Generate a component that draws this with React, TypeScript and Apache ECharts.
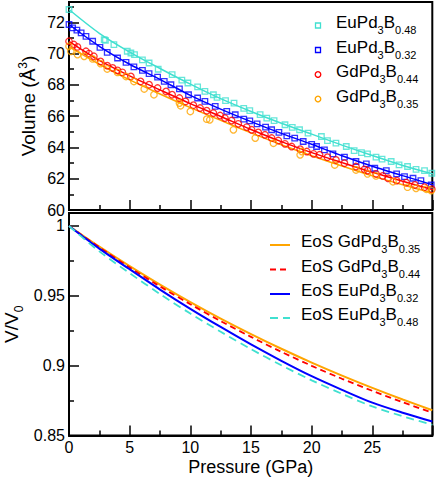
import React, { useEffect, useRef } from 'react';
import * as echarts from 'echarts';

const FONT = "'Liberation Sans', Arial, Helvetica, sans-serif";

// axis ranges
const X_MIN = 0;
const X_MAX = 29.94;
const X_INTERVAL = 5;
const V_MIN = 60;
const V_MAX = 73.3;
const V_INTERVAL = 2;
const R_MIN = 0.85;
const R_MAX = 1.0093;
const R_INTERVAL = 0.05;

// colours
const TURQ = '#40E0D0';
const BLUE = '#0000FF';
const RED = '#FF0000';
const ORANGE = '#FFA500';

// measured volumes (pressure GPa, volume Å^3)
const EU048_POINTS = [
  [0, 72.82], [2.9, 70.9], [3.0, 70.85], [3.7, 70.58], [4.8, 70.15], [5.1, 70.04], [5.4, 69.94],
  [6.05, 69.6], [6.6, 69.4], [7.35, 69.0], [8.5, 68.65], [9.3, 68.3], [9.8, 68.12], [10.6, 67.87],
  [11.2, 67.58], [11.9, 67.37], [12.2, 67.2], [12.9, 67.0], [13.6, 66.84], [14.4, 66.5], [14.9, 66.35],
  [15.75, 66.1], [16.3, 65.88], [16.9, 65.72], [17.8, 65.45], [18.4, 65.28], [19.0, 65.13], [19.7, 64.91],
  [20.8, 64.7], [21.3, 64.44], [22.0, 64.27], [22.85, 64.06], [23.5, 63.8], [24.1, 63.67], [24.6, 63.59],
  [25.3, 63.38], [25.8, 63.25], [26.55, 63.1], [27.2, 62.88], [27.9, 62.78], [28.6, 62.6], [29.3, 62.52],
  [29.9, 62.35],
];
const EU032_POINTS = [
  [0, 71.86], [0.3, 71.65], [0.65, 71.5], [1.0, 71.33], [1.4, 71.1], [1.95, 70.79], [2.55, 70.4],
  [3.15, 70.08], [4.0, 69.72], [4.7, 69.44], [5.35, 69.15], [6.05, 68.93], [6.6, 68.72], [7.3, 68.5],
  [7.85, 68.22], [8.4, 68.01], [9.1, 67.74], [9.85, 67.37], [10.6, 67.16], [11.2, 66.94], [12.05, 66.62],
  [13.0, 66.3], [13.7, 66.09], [14.4, 65.81], [14.9, 65.7], [15.5, 65.51], [16.2, 65.3], [16.7, 65.13],
  [17.3, 64.96], [17.95, 64.74], [18.6, 64.6], [19.3, 64.38], [20.0, 64.2], [20.4, 64.06], [21.05, 63.85],
  [21.75, 63.59], [22.7, 63.38], [23.65, 63.1], [24.5, 62.95], [25.2, 62.67], [26.15, 62.52], [27.0, 62.31],
  [27.65, 62.13], [28.35, 62.03], [29.0, 61.88], [29.85, 61.6],
];
const GD044_POINTS = [
  [0, 70.79], [0.4, 70.58], [0.7, 70.43], [1.4, 70.15], [1.65, 70.0], [2.05, 69.83], [2.6, 69.5],
  [3.15, 69.23], [3.6, 69.08], [4.0, 68.93], [4.4, 68.8], [5.1, 68.54], [5.9, 68.22], [6.6, 68.01],
  [7.3, 67.8], [8.0, 67.58], [8.5, 67.37], [9.1, 67.16], [9.6, 66.94], [10.25, 66.7], [10.8, 66.52],
  [11.35, 66.35], [11.9, 66.2], [12.45, 66.04], [12.85, 65.88], [13.4, 65.72], [13.95, 65.51], [14.65, 65.3],
  [15.05, 65.13], [15.6, 64.96], [16.15, 64.81], [16.7, 64.6], [17.25, 64.44], [17.8, 64.23], [18.35, 64.06],
  [19.05, 63.89], [19.6, 63.74], [20.15, 63.59], [20.65, 63.53], [21.3, 63.38], [22.0, 63.2], [22.7, 62.99],
  [23.65, 62.78], [24.35, 62.6], [24.6, 62.52], [25.3, 62.31], [25.85, 62.18], [26.3, 62.03], [27.0, 61.88],
  [27.8, 61.75], [28.5, 61.6], [29.3, 61.46], [29.9, 61.33],
];
const GD035_POINTS = [
  [0, 70.47], [0.15, 70.15], [0.7, 69.94], [1.25, 69.83], [1.95, 69.66], [2.6, 69.36], [3.15, 69.02],
  [4.0, 68.8], [4.7, 68.54], [5.35, 68.22], [6.2, 67.74], [7.0, 67.37], [9.1, 66.84], [9.2, 66.67],
  [10.0, 66.3], [11.35, 65.81], [11.6, 65.77], [13.55, 65.13], [15.35, 64.6], [16.85, 64.27], [19.05, 63.53],
  [19.2, 63.74], [21.9, 62.88], [23.65, 62.56], [24.6, 62.31], [25.3, 62.18], [26.7, 61.81], [27.9, 61.46],
  [28.6, 61.39], [29.45, 61.33], [29.85, 61.24],
];

// fitted curves (volume) read at these pressures
const FIT_P = [0, 2.5, 5, 7.5, 10, 12.5, 15, 17.5, 20, 22.5, 25, 27.5, 30];
const EU048_FIT = [72.82, 71.3, 70.1, 69.05, 68.05, 67.12, 66.3, 65.55, 64.85, 64.15, 63.48, 62.85, 62.3];
const EU032_FIT = [71.86, 70.47, 69.32, 68.35, 67.33, 66.45, 65.65, 64.9, 64.2, 63.47, 62.8, 62.2, 61.6];
const GD044_FIT = [70.79, 69.57, 68.58, 67.68, 66.8, 65.98, 65.15, 64.37, 63.67, 63.03, 62.41, 61.84, 61.3];
const GD035_FIT = [70.45, 69.32, 68.32, 67.42, 66.55, 65.73, 64.93, 64.17, 63.47, 62.81, 62.18, 61.61, 61.08];

// EoS V/V0 curves read at these pressures
const EOS_P = [0, 2.5, 5, 7.5, 10, 12.5, 15, 17.5, 20, 22.5, 25, 27.5, 29.94];
const EOS_GD035 = [1.0, 0.9852, 0.9712, 0.958, 0.9455, 0.9337, 0.9226, 0.9121, 0.9022, 0.8929, 0.8841, 0.8758, 0.8681];
const EOS_GD044 = [1.0, 0.9847, 0.9703, 0.9567, 0.944, 0.9319, 0.9206, 0.9099, 0.8999, 0.8906, 0.882, 0.8738, 0.8664];
const EOS_EU032 = [1.0, 0.9838, 0.969, 0.9545, 0.9407, 0.9277, 0.9152, 0.9035, 0.8925, 0.8827, 0.8735, 0.8663, 0.86];
const EOS_EU048 = [1.0, 0.9818, 0.9662, 0.9513, 0.9373, 0.9243, 0.9118, 0.9003, 0.8895, 0.8798, 0.8708, 0.8638, 0.8577];

// legend formulas: [element, sub1, element2, sub2]
const TOP_LEGEND = [
  { parts: ['EuPd', '3', 'B', '0.48'], color: TURQ, symbol: 'rect' },
  { parts: ['EuPd', '3', 'B', '0.32'], color: BLUE, symbol: 'rect' },
  { parts: ['GdPd', '3', 'B', '0.44'], color: RED, symbol: 'circle' },
  { parts: ['GdPd', '3', 'B', '0.35'], color: ORANGE, symbol: 'circle' },
];
const BOTTOM_LEGEND = [
  { parts: ['EoS GdPd', '3', 'B', '0.35'], color: ORANGE, dash: null as number[] | null },
  { parts: ['EoS GdPd', '3', 'B', '0.44'], color: RED, dash: [6, 4] },
  { parts: ['EoS EuPd', '3', 'B', '0.32'], color: BLUE, dash: null as number[] | null },
  { parts: ['EoS EuPd', '3', 'B', '0.48'], color: TURQ, dash: [8, 5] },
];

const pair = (xs: number[], ys: number[]) => xs.map((x, i) => [x, ys[i]]);

const richLegend = {
  m: { fontSize: 17, fontFamily: FONT, lineHeight: 26, fill: '#000', color: '#000' },
  s: { fontSize: 11, fontFamily: FONT, lineHeight: 11, verticalAlign: 'bottom', fill: '#000', color: '#000' },
};

function legendText(parts: string[]) {
  return `{m|${parts[0]}}{s|${parts[1]}}{m|${parts[2]}}{s|${parts[3]}}`;
}

export default function App() {
  const ref = useRef<HTMLDivElement>(null);

  useEffect(() => {
    document.body.style.margin = '0';
    if (!ref.current) return;
    const chart = echarts.init(ref.current, undefined, { renderer: 'svg' });

    const axisLine = { show: true, lineStyle: { color: '#000', width: 2 } };
    const axisTick = { show: true, inside: true, length: 10, lineStyle: { color: '#000', width: 1.5 } };
    const minorTick = { show: true, splitNumber: 2, length: 5, lineStyle: { color: '#000', width: 1.5 } };
    const labelStyle = { color: '#000', fontSize: 16, fontFamily: FONT };

    const scatter = (name: string, data: number[][], color: string, symbol: string) => ({
      type: 'scatter',
      name,
      xAxisIndex: 0,
      yAxisIndex: 0,
      data,
      symbol,
      symbolSize: symbol === 'rect' ? 5.5 : 6.5,
      itemStyle: { color: 'rgba(0,0,0,0)', borderColor: color, borderWidth: 1.3 },
      z: 3,
    });
    const fit = (name: string, ys: number[], color: string) => ({
      type: 'line',
      name,
      xAxisIndex: 0,
      yAxisIndex: 0,
      data: pair(FIT_P, ys),
      smooth: 0.3,
      showSymbol: false,
      symbol: 'none',
      lineStyle: { color, width: 1.5 },
      z: 2,
    });
    const eos = (name: string, ys: number[], color: string, dash: number[] | null, width: number) => ({
      type: 'line',
      name,
      xAxisIndex: 1,
      yAxisIndex: 1,
      data: pair(EOS_P, ys),
      smooth: 0.3,
      showSymbol: false,
      symbol: 'none',
      lineStyle: { color, width, type: dash ? dash : 'solid' },
      z: 2,
    });

    const graphics: any[] = [];
    const topBase = [28.5, 53, 77.5, 102];
    TOP_LEGEND.forEach((it, i) => {
      const cy = topBase[i] - 3;
      if (it.symbol === 'rect') {
        graphics.push({ type: 'rect', shape: { x: 315.5, y: cy - 2.5, width: 5, height: 5 }, style: { fill: 'none', stroke: it.color, lineWidth: 1.3 } });
      } else {
        graphics.push({ type: 'circle', shape: { cx: 318, cy, r: 2.8 }, style: { fill: 'none', stroke: it.color, lineWidth: 1.3 } });
      }
      graphics.push({
        type: 'text', x: 336, y: topBase[i] - 19,
        style: { text: legendText(it.parts), rich: richLegend, fontSize: 17, fontFamily: FONT, fill: '#000', align: 'left', verticalAlign: 'top' },
      });
    });
    const botBase = [247.5, 272, 296.5, 320.5];
    BOTTOM_LEGEND.forEach((it, i) => {
      const cy = botBase[i] - 2.5;
      graphics.push({
        type: 'line', shape: { x1: 270, y1: cy, x2: 290, y2: cy },
        style: { stroke: it.color, lineWidth: it.dash ? 1.8 : 2, lineDash: it.dash || undefined },
      });
      graphics.push({
        type: 'text', x: 301, y: botBase[i] - 19,
        style: { text: legendText(it.parts), rich: richLegend, fontSize: 17, fontFamily: FONT, fill: '#000', align: 'left', verticalAlign: 'top' },
      });
    });

    const option: any = {
      animation: false,
      backgroundColor: '#fff',
      grid: [
        { left: 69, top: 2, width: 363.3, height: 208, show: true, borderColor: '#000', borderWidth: 2, backgroundColor: 'transparent', outerBoundsMode: 'none', containLabel: false },
        { left: 69, top: 213, width: 363.3, height: 222.5, show: true, borderColor: '#000', borderWidth: 2, backgroundColor: 'transparent', outerBoundsMode: 'none', containLabel: false },
      ],
      xAxis: [
        {
          type: 'value', gridIndex: 0, min: X_MIN, max: X_MAX, interval: X_INTERVAL,
          axisLine, axisTick, minorTick, splitLine: { show: false }, minorSplitLine: { show: false },
          axisLabel: { show: false },
        },
        {
          type: 'value', gridIndex: 1, min: X_MIN, max: X_MAX, interval: X_INTERVAL,
          axisLine, axisTick, minorTick, splitLine: { show: false }, minorSplitLine: { show: false },
          axisLabel: { ...labelStyle, margin: 4, showMaxLabel: false, hideOverlap: false, lineHeight: 16 },
          name: 'Pressure (GPa)', nameLocation: 'middle', nameGap: 22, nameMoveOverlap: false,
          nameTextStyle: { color: '#000', fontSize: 18, fontFamily: FONT, lineHeight: 18 },
        },
      ],
      yAxis: [
        {
          type: 'value', gridIndex: 0, min: V_MIN, max: V_MAX, interval: V_INTERVAL,
          axisLine, axisTick, minorTick, splitLine: { show: false }, minorSplitLine: { show: false },
          axisLabel: { ...labelStyle, margin: 4, showMaxLabel: false, hideOverlap: false, lineHeight: 14 },
          name: '{a|Volume (Å}{sup|3}{a|)}', nameLocation: 'middle', nameGap: 30, nameMoveOverlap: false,
          nameTextStyle: {
            color: '#000', fontSize: 19, fontFamily: FONT,
            rich: {
              a: { color: '#000', fontSize: 19, fontFamily: FONT, lineHeight: 22 },
              sup: { color: '#000', fontSize: 12, fontFamily: FONT, lineHeight: 12, verticalAlign: 'top' },
            },
          },
        },
        {
          type: 'value', gridIndex: 1, min: R_MIN, max: R_MAX, interval: R_INTERVAL,
          axisLine, axisTick, minorTick, splitLine: { show: false }, minorSplitLine: { show: false },
          axisLabel: { ...labelStyle, margin: 4, showMaxLabel: false, hideOverlap: false, lineHeight: 14 },
          name: '{a|V/V}{sub|0}', nameLocation: 'middle', nameGap: 44, nameMoveOverlap: false,
          nameTextStyle: {
            color: '#000', fontSize: 19, fontFamily: FONT,
            rich: {
              a: { color: '#000', fontSize: 19, fontFamily: FONT, lineHeight: 27 },
              sub: { color: '#000', fontSize: 12, fontFamily: FONT, lineHeight: 12, verticalAlign: 'bottom' },
            },
          },
        },
      ],
      series: [
        fit('fit EuPd3B0.48', EU048_FIT, TURQ),
        fit('fit EuPd3B0.32', EU032_FIT, BLUE),
        fit('fit GdPd3B0.44', GD044_FIT, RED),
        fit('fit GdPd3B0.35', GD035_FIT, ORANGE),
        scatter('EuPd3B0.48', EU048_POINTS, TURQ, 'rect'),
        scatter('EuPd3B0.32', EU032_POINTS, BLUE, 'rect'),
        scatter('GdPd3B0.44', GD044_POINTS, RED, 'circle'),
        scatter('GdPd3B0.35', GD035_POINTS, ORANGE, 'circle'),
        eos('EoS GdPd3B0.35', EOS_GD035, ORANGE, null, 2),
        eos('EoS GdPd3B0.44', EOS_GD044, RED, [6, 4], 1.8),
        eos('EoS EuPd3B0.32', EOS_EU032, BLUE, null, 2),
        eos('EoS EuPd3B0.48', EOS_EU048, TURQ, [8, 5], 1.8),
      ],
      graphic: graphics,
    };

    chart.setOption(option);
    return () => {
      chart.dispose();
    };
  }, []);

  return <div ref={ref} style={{ width: 436, height: 479 }} />;
}
